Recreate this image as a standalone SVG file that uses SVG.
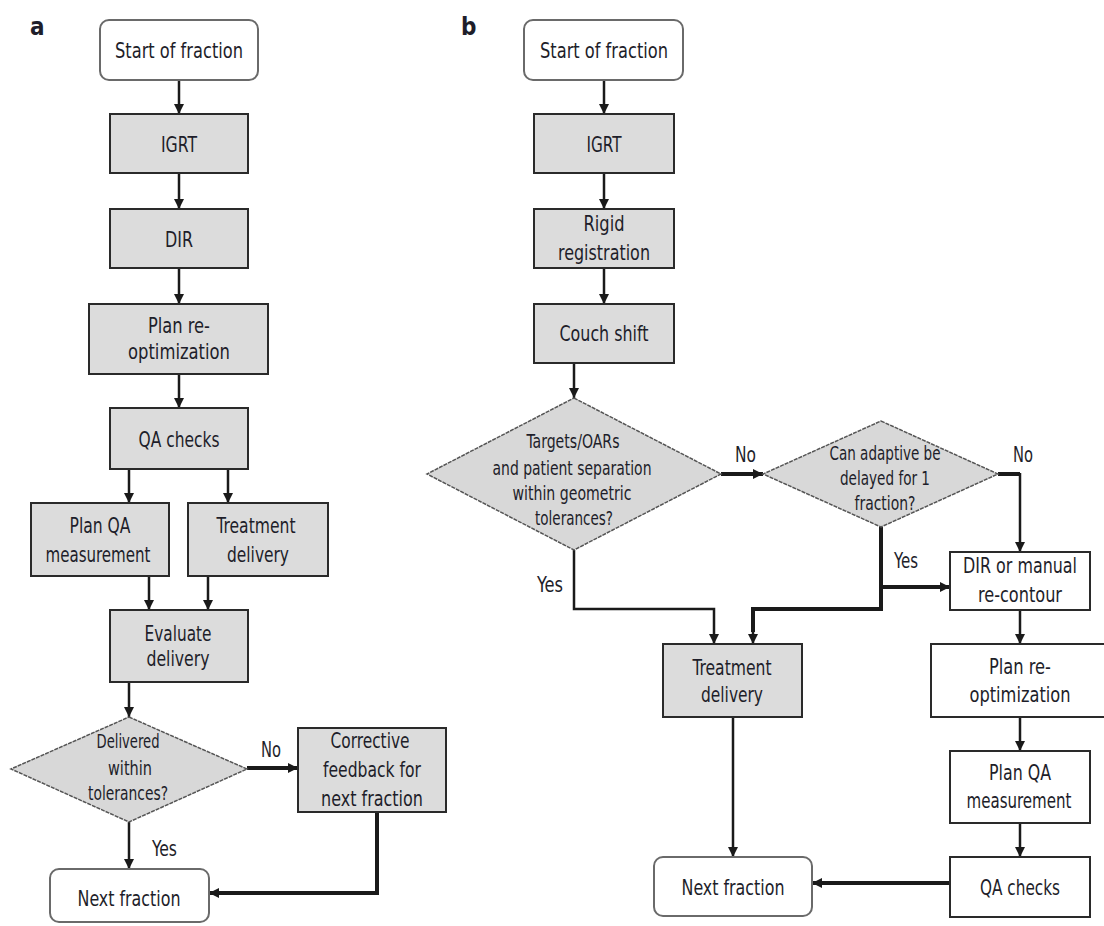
<svg xmlns="http://www.w3.org/2000/svg" width="1104" height="926" viewBox="0 0 1104 926">
<defs>
<marker id="ah" markerUnits="userSpaceOnUse" markerWidth="10" markerHeight="10" refX="10" refY="5" orient="auto">
<path d="M0,0 L10,5 L0,10 z" fill="#1a1a1a"/>
</marker>
<style>
text{font-family:"Liberation Sans Narrow","DejaVu Sans Condensed","Liberation Sans",sans-serif;fill:#1e1e2a;text-anchor:middle;font-size:22px}
.lbl{font-weight:bold;font-size:24px;text-anchor:start}
.yn{text-anchor:start;font-size:21px}
.sm{font-size:20px}
.box{fill:#dcdcdc;stroke:#2a2a2a;stroke-width:2}
.wbox{fill:#fff;stroke:#2a2a2a;stroke-width:2}
.term{fill:#fff;stroke:#6a6a6a;stroke-width:2}
.dia{fill:#d8d8d8;stroke:#555;stroke-width:1.5;stroke-dasharray:4 1}
.c{fill:none;stroke:#1a1a1a;stroke-width:2.5}
.ck{fill:none;stroke:#1a1a1a;stroke-width:4}
</style>
</defs>
<rect width="1104" height="926" fill="#fff"/>
<text class="lbl" x="30" y="35">a</text>
<text class="lbl" x="461" y="35">b</text>

<g id="connectors">
<line class="c" x1="179" y1="80" x2="179" y2="114" marker-end="url(#ah)"/>
<line class="c" x1="179" y1="173" x2="179" y2="209" marker-end="url(#ah)"/>
<line class="c" x1="179" y1="268" x2="179" y2="304" marker-end="url(#ah)"/>
<line class="c" x1="179" y1="374" x2="179" y2="408" marker-end="url(#ah)"/>
<line class="c" x1="129" y1="469" x2="129" y2="503" marker-end="url(#ah)"/>
<line class="c" x1="228" y1="469" x2="228" y2="503" marker-end="url(#ah)"/>
<line class="c" x1="149" y1="576" x2="149" y2="610" marker-end="url(#ah)"/>
<line class="c" x1="208" y1="576" x2="208" y2="610" marker-end="url(#ah)"/>
<line class="c" x1="129" y1="682" x2="129" y2="717" marker-end="url(#ah)"/>
<line class="ck" x1="247" y1="768" x2="298" y2="768" marker-end="url(#ah)"/>
<line class="c" x1="129" y1="822" x2="129" y2="869" marker-end="url(#ah)"/>
<path class="ck" d="M377,812 V893 H209" marker-end="url(#ah)"/>

<line class="c" x1="604" y1="80" x2="604" y2="114" marker-end="url(#ah)"/>
<line class="c" x1="604" y1="173" x2="604" y2="209" marker-end="url(#ah)"/>
<line class="c" x1="604" y1="268" x2="604" y2="304" marker-end="url(#ah)"/>
<line class="c" x1="574" y1="363" x2="574" y2="398" marker-end="url(#ah)"/>
<line class="ck" x1="721" y1="474" x2="763" y2="474" marker-end="url(#ah)"/>
<path class="ck" d="M998,474 H1020"/>
<path class="c" d="M1020,473 V552" marker-end="url(#ah)"/>
<path class="c" d="M574,550 V609 H714 V644" marker-end="url(#ah)"/>
<path class="ck" d="M881,527 V609 H753 V632"/>
<path class="c" d="M753,630 V644" marker-end="url(#ah)"/>
<line class="ck" x1="881" y1="587" x2="950" y2="587" marker-end="url(#ah)"/>
<line class="c" x1="1020" y1="610" x2="1020" y2="644" marker-end="url(#ah)"/>
<line class="c" x1="1020" y1="717" x2="1020" y2="751" marker-end="url(#ah)"/>
<line class="c" x1="1020" y1="823" x2="1020" y2="857" marker-end="url(#ah)"/>
<line class="c" x1="733" y1="717" x2="733" y2="857" marker-end="url(#ah)"/>
<line class="ck" x1="950" y1="883" x2="812" y2="883" marker-end="url(#ah)"/>

<text class="yn" x="261" y="757" textLength="20" lengthAdjust="spacingAndGlyphs">No</text>
<text class="yn" x="152" y="856" textLength="25" lengthAdjust="spacingAndGlyphs">Yes</text>
<text class="yn" x="735" y="462" textLength="21" lengthAdjust="spacingAndGlyphs">No</text>
<text class="yn" x="1013" y="462" textLength="20" lengthAdjust="spacingAndGlyphs">No</text>
<text class="yn" x="537" y="592" textLength="26" lengthAdjust="spacingAndGlyphs">Yes</text>
<text class="yn" x="894" y="568" textLength="24" lengthAdjust="spacingAndGlyphs">Yes</text>
</g>

<!-- Panel a -->
<g id="a-start"><rect class="term" x="100" y="20" width="158" height="60" rx="9"/><text x="179" y="58" textLength="128" lengthAdjust="spacingAndGlyphs">Start of fraction</text></g>
<g id="a-igrt"><rect class="box" x="110" y="114" width="138" height="59"/><text x="179" y="152" textLength="36" lengthAdjust="spacingAndGlyphs">IGRT</text></g>
<g id="a-dir"><rect class="box" x="110" y="209" width="138" height="59"/><text x="179" y="247" textLength="28" lengthAdjust="spacingAndGlyphs">DIR</text></g>
<g id="a-plan"><rect class="box" x="89" y="304" width="179" height="70"/><text x="179" y="333" textLength="62" lengthAdjust="spacingAndGlyphs">Plan re-</text><text x="179" y="359" textLength="102" lengthAdjust="spacingAndGlyphs">optimization</text></g>
<g id="a-qa"><rect class="box" x="110" y="408" width="138" height="61"/><text x="179" y="447" textLength="81" lengthAdjust="spacingAndGlyphs">QA checks</text></g>
<g id="a-planqa"><rect class="box" x="31" y="503" width="138" height="73"/><text x="100" y="533" textLength="61" lengthAdjust="spacingAndGlyphs">Plan QA</text><text x="98" y="562" textLength="105" lengthAdjust="spacingAndGlyphs">measurement</text></g>
<g id="a-treat"><rect class="box" x="188" y="503" width="140" height="73"/><text x="256" y="533" textLength="79" lengthAdjust="spacingAndGlyphs">Treatment</text><text x="258" y="562" textLength="62" lengthAdjust="spacingAndGlyphs">delivery</text></g>
<g id="a-eval"><rect class="box" x="110" y="610" width="138" height="72"/><text x="178" y="641" textLength="67" lengthAdjust="spacingAndGlyphs">Evaluate</text><text x="178" y="666" textLength="63" lengthAdjust="spacingAndGlyphs">delivery</text></g>
<g id="a-dec"><polygon class="dia" points="129,717 247,769 129,822 11,769"/><text class="sm" x="128" y="748" textLength="63" lengthAdjust="spacingAndGlyphs">Delivered</text><text class="sm" x="130" y="775" textLength="44" lengthAdjust="spacingAndGlyphs">within</text><text class="sm" x="128" y="800" textLength="80" lengthAdjust="spacingAndGlyphs">tolerances?</text></g>
<g id="a-corr"><rect class="box" x="298" y="728" width="148" height="84"/><text x="370" y="748" textLength="79" lengthAdjust="spacingAndGlyphs">Corrective</text><text x="372" y="777" textLength="98" lengthAdjust="spacingAndGlyphs">feedback for</text><text x="372" y="806" textLength="102" lengthAdjust="spacingAndGlyphs">next fraction</text></g>
<g id="a-next"><rect class="term" x="50" y="869" width="159" height="53" rx="9"/><text x="129" y="906" textLength="103" lengthAdjust="spacingAndGlyphs">Next fraction</text></g>

<!-- Panel b -->
<g id="b-start"><rect class="term" x="524" y="20" width="159" height="60" rx="9"/><text x="604" y="58" textLength="128" lengthAdjust="spacingAndGlyphs">Start of fraction</text></g>
<g id="b-igrt"><rect class="box" x="534" y="114" width="140" height="59"/><text x="604" y="152" textLength="35" lengthAdjust="spacingAndGlyphs">IGRT</text></g>
<g id="b-rigid"><rect class="box" x="534" y="209" width="140" height="59"/><text x="604" y="231" textLength="41" lengthAdjust="spacingAndGlyphs">Rigid</text><text x="604" y="260" textLength="92" lengthAdjust="spacingAndGlyphs">registration</text></g>
<g id="b-couch"><rect class="box" x="534" y="304" width="140" height="59"/><text x="604" y="341" textLength="89" lengthAdjust="spacingAndGlyphs">Couch shift</text></g>
<g id="b-dec1"><polygon class="dia" points="574,398 721,474 574,550 427,474"/><text class="sm" x="573" y="448" textLength="93" lengthAdjust="spacingAndGlyphs">Targets/OARs</text><text class="sm" x="572" y="475" textLength="159" lengthAdjust="spacingAndGlyphs">and patient separation</text><text class="sm" x="572" y="500" textLength="119" lengthAdjust="spacingAndGlyphs">within geometric</text><text class="sm" x="574" y="525" textLength="78" lengthAdjust="spacingAndGlyphs">tolerances?</text></g>
<g id="b-dec2"><polygon class="dia" points="881,421 998,474 881,527 763,474"/><text class="sm" x="885" y="460" textLength="111" lengthAdjust="spacingAndGlyphs">Can adaptive be</text><text class="sm" x="885" y="485" textLength="90" lengthAdjust="spacingAndGlyphs">delayed for 1</text><text class="sm" x="885" y="510" textLength="61" lengthAdjust="spacingAndGlyphs">fraction?</text></g>
<g id="b-dir"><rect class="wbox" x="950" y="552" width="140" height="58"/><text x="1020" y="573" textLength="114" lengthAdjust="spacingAndGlyphs">DIR or manual</text><text x="1020" y="602" textLength="84" lengthAdjust="spacingAndGlyphs">re-contour</text></g>
<g id="b-treat"><rect class="box" x="663" y="644" width="139" height="73"/><text x="732" y="675" textLength="79" lengthAdjust="spacingAndGlyphs">Treatment</text><text x="732" y="702" textLength="62" lengthAdjust="spacingAndGlyphs">delivery</text></g>
<g id="b-plan"><rect class="wbox" x="931" y="644" width="180" height="73"/><text x="1020" y="674" textLength="62" lengthAdjust="spacingAndGlyphs">Plan re-</text><text x="1020" y="702" textLength="101" lengthAdjust="spacingAndGlyphs">optimization</text></g>
<g id="b-planqa"><rect class="wbox" x="950" y="751" width="140" height="72"/><text x="1020" y="780" textLength="62" lengthAdjust="spacingAndGlyphs">Plan QA</text><text x="1019" y="808" textLength="105" lengthAdjust="spacingAndGlyphs">measurement</text></g>
<g id="b-qa"><rect class="wbox" x="950" y="857" width="140" height="60"/><text x="1020" y="895" textLength="80" lengthAdjust="spacingAndGlyphs">QA checks</text></g>
<g id="b-next"><rect class="term" x="654" y="857" width="158" height="59" rx="9"/><text x="733" y="895" textLength="103" lengthAdjust="spacingAndGlyphs">Next fraction</text></g>
</svg>
